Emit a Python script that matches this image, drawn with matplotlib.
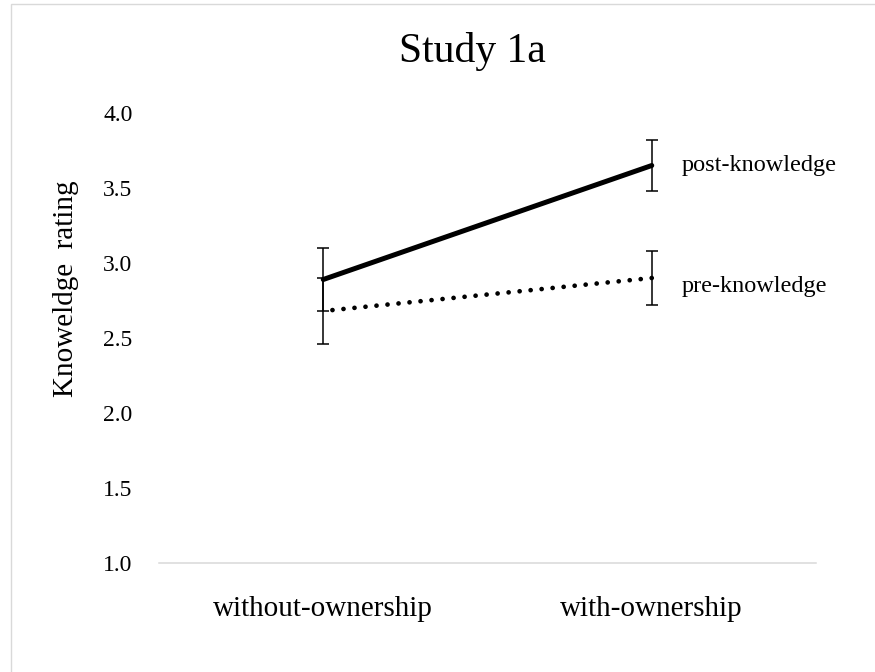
import matplotlib
matplotlib.use("Agg")
import matplotlib.pyplot as plt
from matplotlib.patches import Rectangle

categories = ["without-ownership", "with-ownership"]
post_knowledge = [2.89, 3.65]
post_err = [0.21, 0.17]
pre_knowledge = [2.68, 2.90]
pre_err = [0.22, 0.18]
yticks = [1.0, 1.5, 2.0, 2.5, 3.0, 3.5, 4.0]

plt.rcParams['font.family'] = ['Liberation Serif', 'DejaVu Serif']

W, H = 875, 672
fig = plt.figure(figsize=(W / 100, H / 100), dpi=100)
ax = fig.add_axes([159 / W, 1 - 563 / H, (816 - 159) / W, (563 - 113) / H])

x = list(range(len(categories)))

ax.plot(x, post_knowledge, color='black', lw=3.6, solid_capstyle='round', zorder=3)
# dotted series drawn from the right end so a dot sits on both error bars
ax.plot(x[::-1], pre_knowledge[::-1], color='black', lw=3.4,
        linestyle=(0, (0.01, 2.333)), dash_capstyle='round', zorder=3)
ax.errorbar(x, post_knowledge, yerr=post_err, fmt='none', ecolor='black',
            elinewidth=1.1, capsize=4.2, capthick=1.1, zorder=4)
ax.errorbar(x, pre_knowledge, yerr=pre_err, fmt='none', ecolor='black',
            elinewidth=1.1, capsize=4.2, capthick=1.1, zorder=4)

ax.annotate("post-knowledge", xy=(x[-1], post_knowledge[-1]), xytext=(21.5, 0),
            textcoords='offset points', va='center', ha='left', fontsize=17.5)
ax.annotate("pre-knowledge", xy=(x[-1], pre_knowledge[-1]), xytext=(21.5, -6),
            textcoords='offset points', va='center', ha='left', fontsize=17.5)

ax.set_xlim(-0.5, 1.5)
ax.set_ylim(1.0, 4.0)
ax.set_xticks(x)
ax.set_xticklabels(categories, fontsize=21)
ax.set_yticks(yticks)
ax.set_yticklabels([f"{v:.1f}" for v in yticks], fontsize=17)
ax.tick_params(axis='x', length=0, pad=24)
ax.tick_params(axis='y', length=0, pad=19)

for s in ['top', 'right', 'left']:
    ax.spines[s].set_visible(False)
ax.spines['bottom'].set_color('#d9d9d9')
ax.spines['bottom'].set_linewidth(1.1)

fig.text(66 / W, 1 - 289 / H, "Knoweldge  rating", rotation=90, fontsize=21,
         ha='center', va='center')
fig.text(472 / W, 1 - 62 / H, "Study 1a", fontsize=30, ha='center', va='baseline')

fig.patches.append(Rectangle((10.5 / W, -0.05), 1.2, 1 - 3.5 / H + 0.05,
                             transform=fig.transFigure, fill=False,
                             edgecolor='#d9d9d9', lw=1.0))

fig.savefig("out.png", dpi=100)
